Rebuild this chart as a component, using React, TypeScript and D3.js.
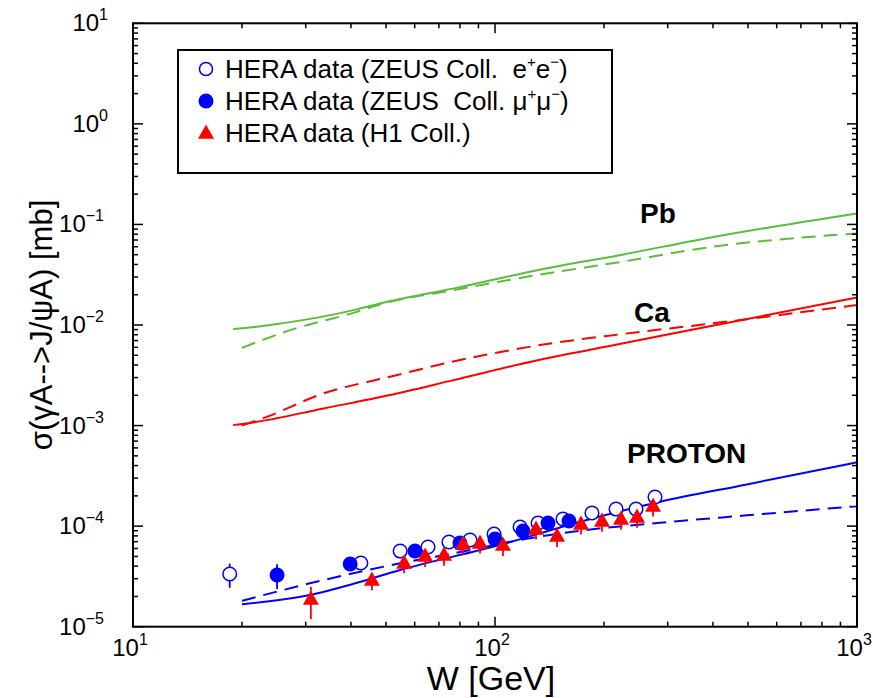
import React from "react";
import * as d3 from "d3";

// ---- Data ----
const pbSolidW = [18.9, 23.9, 41.5, 48.1, 80, 133, 221, 392, 1000];
const pbSolidS = [9.1e-3, 1.0e-2, 1.43e-2, 1.64e-2, 2.38e-2, 3.55e-2, 4.95e-2, 7.39e-2, 0.1286];
const pbDashW = [20, 27.2, 41.5, 48.1, 80, 133, 221, 392, 1000];
const pbDashS = [5.93e-3, 8.9e-3, 1.35e-2, 1.6e-2, 2.28e-2, 3.17e-2, 4.22e-2, 5.94e-2, 8.13e-2];

const caSolidW = [18.9, 22, 33.6, 51.3, 76.7, 133, 221, 392, 1000];
const caSolidS = [1.01e-3, 1.09e-3, 1.48e-3, 2.01e-3, 2.83e-3, 4.52e-3, 6.47e-3, 9.71e-3, 1.88e-2];
const caDashW = [20, 23.4, 33.6, 51.3, 80, 133, 221, 392, 1000];
const caDashS = [1.0e-3, 1.22e-3, 2.09e-3, 3.06e-3, 4.48e-3, 6.31e-3, 8.07e-3, 1.03e-2, 1.58e-2];

const pSolidW = [20, 30.8, 41.1, 54.7, 103, 172, 286, 496, 1000];
const pSolidS = [1.67e-5, 2.07e-5, 2.7e-5, 3.66e-5, 6.49e-5, 1.106e-4, 1.75e-4, 2.6e-4, 4.31e-4];
const pDashW = [20, 30.8, 54.7, 80, 117, 172, 286, 496, 1000];
const pDashS = [1.81e-5, 2.7e-5, 4.27e-5, 5.53e-5, 7.28e-5, 9.0e-5, 1.08e-4, 1.28e-4, 1.58e-4];

// ZEUS e+e- (open circles)
const zeusEeW = [18.5, 42.6, 54.7, 65.3, 74.6, 85.3, 99.4, 117.3, 131.5, 154.1, 185.3, 216, 245.2, 276.7];
const zeusEeS = [3.34e-5, 4.3e-5, 5.65e-5, 6.2e-5, 6.95e-5, 7.27e-5, 8.35e-5, 9.8e-5, 1.074e-4, 1.177e-4, 1.35e-4, 1.479e-4, 1.479e-4, 1.947e-4];
const zeusEeE = [0.9e-5, 0.4e-5, 0.5e-5, 0.5e-5, 0.6e-5, 0.6e-5, 0.7e-5, 0.8e-5, 0.9e-5, 1.0e-5, 1.1e-5, 1.2e-5, 1.2e-5, 1.6e-5];

// ZEUS mu+mu- (filled circles)
const zeusMmW = [25.0, 39.8, 60.1, 80.0, 100, 119.5, 140.1, 160.1];
const zeusMmS = [3.27e-5, 4.2e-5, 5.65e-5, 6.79e-5, 7.44e-5, 8.94e-5, 1.074e-4, 1.124e-4];
const zeusMmE = [0.9e-5, 0.4e-5, 0.5e-5, 0.6e-5, 0.6e-5, 0.7e-5, 0.9e-5, 0.9e-5];

// H1 (triangles)
const h1W = [31.0, 45.7, 56.1, 64.1, 72.3, 81.6, 90.9, 105.2, 129.8, 148.4, 172.8, 197.5, 222.9, 246.8, 273.3];
const h1S = [1.84e-5, 2.85e-5, 4.2e-5, 4.93e-5, 5.04e-5, 6.49e-5, 6.64e-5, 6.34e-5, 9.15e-5, 7.79e-5, 1.026e-4, 1.099e-4, 1.15e-4, 1.204e-4, 1.548e-4];
const h1E = [0.65e-5, 0.55e-5, 0.8e-5, 1.0e-5, 1.0e-5, 1.3e-5, 1.3e-5, 1.3e-5, 1.8e-5, 1.6e-5, 2.0e-5, 2.2e-5, 2.3e-5, 2.4e-5, 3.0e-5];

const xTickExps = [1, 2, 3];
const yTickExps = [-5, -4, -3, -2, -1, 0, 1];

const legendLabels = ["HERA data (ZEUS Coll.  e", "HERA data (ZEUS  Coll. \u03bc", "HERA data (H1 Coll.)"];

const GREEN = "#5bbd3b";
const RED = "#ff0000";
const BLUE = "#0000ff";
const FONT = "'Liberation Sans', Arial, Helvetica, sans-serif";

const L = 133, R = 857, T = 23.3, B = 626.7;

export default function App() {
  const x = d3.scaleLog().domain([10, 1000]).range([L, R]);
  const y = d3.scaleLog().domain([1e-5, 10]).range([B, T]);

  const line = (ws: number[], ss: number[]) =>
    d3
      .line<number>()
      .x((_, i) => x(ws[i]))
      .y((_, i) => y(ss[i]))
      .curve(d3.curveMonotoneX)(ws) || "";

  const tri = (cx: number, cy: number, s = 1) => {
    const w = 8 * s, up = 9.5 * s, dn = 4.8 * s;
    return `M${cx},${cy - up}L${cx + w},${cy + dn}L${cx - w},${cy + dn}Z`;
  };

  const xMinor: number[] = [];
  for (let e = 1; e < 3; e++) for (let m = 2; m <= 9; m++) xMinor.push(m * Math.pow(10, e));
  const yMinor: number[] = [];
  for (let e = -5; e < 1; e++) for (let m = 2; m <= 9; m++) yMinor.push(m * Math.pow(10, e));

  const MAJ = 10, MIN = 5;

  const expStr = (e: number) => (e < 0 ? "\u2212" + Math.abs(e) : String(e));

  const curves = [
    { w: pbSolidW, s: pbSolidS, c: GREEN, dash: undefined },
    { w: pbDashW, s: pbDashS, c: GREEN, dash: "14,8" },
    { w: caSolidW, s: caSolidS, c: RED, dash: undefined },
    { w: caDashW, s: caDashS, c: RED, dash: "14,8" },
    { w: pSolidW, s: pSolidS, c: BLUE, dash: undefined },
    { w: pDashW, s: pDashS, c: BLUE, dash: "14,8" },
  ];

  const pre = { whiteSpace: "pre" as const };

  return (
    <svg width={873} height={698} style={{ position: "absolute", left: 0, top: 0, background: "#fff" }} fontFamily={FONT}>
      <rect x={0} y={0} width={873} height={698} fill="#fff" />
      <g fill="none" strokeWidth={2}>
        {curves.map((c, i) => (
          <path key={i} d={line(c.w, c.s)} stroke={c.c} strokeDasharray={c.dash} />
        ))}
      </g>

      <g strokeWidth={1.8}>
        {zeusEeW.map((w, i) => (
          <line key={"ee" + i} x1={x(w)} x2={x(w)} y1={y(zeusEeS[i] + zeusEeE[i])} y2={y(zeusEeS[i] - zeusEeE[i])} stroke={BLUE} />
        ))}
        {zeusMmW.map((w, i) => (
          <line key={"mm" + i} x1={x(w)} x2={x(w)} y1={y(zeusMmS[i] + zeusMmE[i])} y2={y(zeusMmS[i] - zeusMmE[i])} stroke={BLUE} />
        ))}
        {h1W.map((w, i) => (
          <line key={"h1" + i} x1={x(w)} x2={x(w)} y1={y(h1S[i] + h1E[i])} y2={y(h1S[i] - h1E[i])} stroke={RED} />
        ))}
      </g>
      {zeusEeW.map((w, i) => (
        <circle key={"eec" + i} cx={x(w)} cy={y(zeusEeS[i])} r={6.8} fill="#fff" stroke={BLUE} strokeWidth={1.5} />
      ))}
      {zeusMmW.map((w, i) => (
        <circle key={"mmc" + i} cx={x(w)} cy={y(zeusMmS[i])} r={7.5} fill={BLUE} />
      ))}
      {h1W.map((w, i) => (
        <path key={"h1t" + i} d={tri(x(w), y(h1S[i]))} fill={RED} />
      ))}

      <rect x={L} y={T} width={R - L} height={B - T} fill="none" stroke="#000" strokeWidth={2} />
      <g stroke="#000" strokeWidth={1.5}>
        {xTickExps.map((e) => {
          const px = x(Math.pow(10, e));
          return (
            <g key={"xm" + e}>
              <line x1={px} x2={px} y1={B} y2={B - MAJ} />
              <line x1={px} x2={px} y1={T} y2={T + MAJ} />
            </g>
          );
        })}
        {xMinor.map((v) => {
          const px = x(v);
          return (
            <g key={"xn" + v}>
              <line x1={px} x2={px} y1={B} y2={B - MIN} />
              <line x1={px} x2={px} y1={T} y2={T + MIN} />
            </g>
          );
        })}
        {yTickExps.map((e) => {
          const py = y(Math.pow(10, e));
          return (
            <g key={"ym" + e}>
              <line x1={L} x2={L + MAJ} y1={py} y2={py} />
              <line x1={R} x2={R - MAJ} y1={py} y2={py} />
            </g>
          );
        })}
        {yMinor.map((v) => {
          const py = y(v);
          return (
            <g key={"yn" + v}>
              <line x1={L} x2={L + MIN} y1={py} y2={py} />
              <line x1={R} x2={R - MIN} y1={py} y2={py} />
            </g>
          );
        })}
      </g>

      {yTickExps.map((e) => (
        <text key={"yl" + e} x={e < 0 ? 104 : 108} y={y(Math.pow(10, e)) + 8} textAnchor="end" fontSize={24} fill="#000">
          10
          <tspan fontSize={16} dy={-11}>{expStr(e)}</tspan>
        </text>
      ))}
      {xTickExps.map((e) => (
        <text key={"xl" + e} x={x(Math.pow(10, e)) - 3} y={656} textAnchor="middle" fontSize={24} fill="#000">
          10
          <tspan fontSize={16} dy={-11}>{expStr(e)}</tspan>
        </text>
      ))}

      <text x={491} y={690} textAnchor="middle" fontSize={34} fill="#000">W [GeV]</text>
      <text transform={`translate(52,${(T + B) / 2}) rotate(-90)`} textAnchor="middle" fontSize={31} fill="#000">
        σ(γA--&gt;J/ψA) [mb]
      </text>

      <text x={640} y={223.3} fontSize={28} fontWeight="bold" fill="#000">Pb</text>
      <text x={634} y={321.7} fontSize={28} fontWeight="bold" fill="#000">Ca</text>
      <text x={627} y={463.3} fontSize={28} fontWeight="bold" fill="#000">PROTON</text>

      <rect x={178} y={50} width={434} height={123} fill="#fff" stroke="#000" strokeWidth={2} />
      <circle cx={206} cy={69} r={6.5} fill="#fff" stroke={BLUE} strokeWidth={1.5} />
      <circle cx={206} cy={101} r={7.5} fill={BLUE} />
      <path d={tri(206, 134)} fill={RED} />
      <text x={225} y={78} fontSize={26} fill="#000" style={pre}>
        {legendLabels[0]}
        <tspan fontSize={15} dy={-11}>+</tspan>
        <tspan dy={11}>e</tspan>
        <tspan fontSize={15} dy={-11}>{"\u2212"}</tspan>
        <tspan dy={11}>)</tspan>
      </text>
      <text x={225} y={110} fontSize={26} fill="#000" style={pre}>
        {legendLabels[1]}
        <tspan fontSize={15} dy={-11}>+</tspan>
        <tspan dy={11}>{"\u03bc"}</tspan>
        <tspan fontSize={15} dy={-11}>{"\u2212"}</tspan>
        <tspan dy={11}>)</tspan>
      </text>
      <text x={225} y={142} fontSize={26} fill="#000" style={pre}>{legendLabels[2]}</text>
    </svg>
  );
}
